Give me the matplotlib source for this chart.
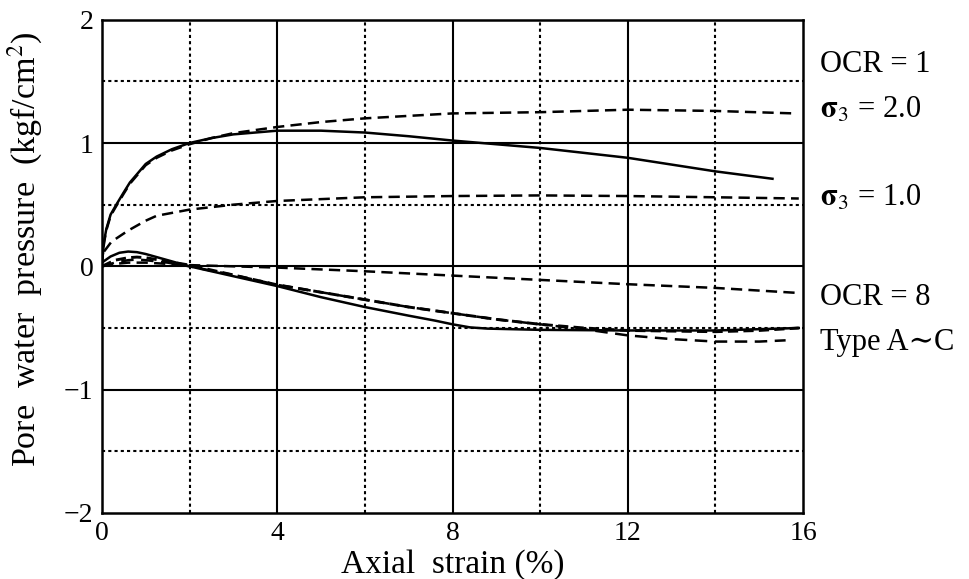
import numpy as np
import matplotlib
matplotlib.use("Agg")
matplotlib.rcParams.update({
    "font.family": ["Liberation Serif", "DejaVu Serif"],
    "mathtext.fontset": "stix",
})
import matplotlib.pyplot as plt

# OCR = 1, sigma3 = 2.0
s2_sol_x = [0, 0.05, 0.1, 0.2, 0.33, 0.5, 0.64, 1.0, 1.25, 1.6, 2, 2.5, 3, 4, 5, 6, 7, 8, 10, 12, 14, 15.3]
s2_sol_y = [0.02, 0.2, 0.3, 0.42, 0.5, 0.6, 0.68, 0.83, 0.89, 0.95, 1.0, 1.04, 1.07, 1.10, 1.10, 1.085, 1.055, 1.02, 0.96, 0.88, 0.77, 0.71]
s2_dash_x = [0, 0.05, 0.1, 0.2, 0.33, 0.5, 0.64, 1.0, 1.25, 1.6, 2, 2.5, 3, 4, 5, 6, 7, 8, 10, 12, 14, 15.8]
s2_dash_y = [0.02, 0.19, 0.29, 0.41, 0.49, 0.59, 0.67, 0.82, 0.88, 0.94, 0.99, 1.04, 1.08, 1.13, 1.17, 1.20, 1.22, 1.24, 1.25, 1.27, 1.26, 1.24]
# OCR = 1, sigma3 = 1.0
s1_dash_x = [0.05, 0.22, 0.6, 1.0, 1.25, 2, 3, 4, 6, 8, 10, 12, 14, 15.9]
s1_dash_y = [0.12, 0.2, 0.29, 0.37, 0.41, 0.46, 0.50, 0.53, 0.56, 0.57, 0.575, 0.57, 0.56, 0.55]

# OCR = 8, Type A~C
o8_sol_x = [0, 0.2, 0.4, 0.6, 0.8, 1.0, 1.5, 2, 3, 4, 5, 6, 7, 7.6, 8, 8.4, 8.8, 10, 12, 14, 15.9]
o8_sol_y = [0.03, 0.08, 0.11, 0.12, 0.115, 0.1, 0.05, 0.0, -0.08, -0.16, -0.25, -0.33, -0.40, -0.44, -0.47, -0.495, -0.505, -0.515, -0.52, -0.52, -0.50]
o8_d1_x = [0, 0.3, 0.6, 1.0, 1.5, 2, 3, 4, 6, 8, 10, 12, 14, 15.85]
o8_d1_y = [0.0, 0.02, 0.03, 0.03, 0.02, 0.01, 0.0, -0.01, -0.04, -0.075, -0.11, -0.145, -0.175, -0.215]
o8_d2_x = [0, 0.3, 0.6, 0.8, 1.0, 1.5, 2, 3, 4, 5, 6, 7, 8, 9, 10, 11, 12, 13, 14, 15, 15.9]
o8_d2_y = [0.0, 0.05, 0.07, 0.075, 0.07, 0.04, 0.01, -0.07, -0.15, -0.21, -0.27, -0.33, -0.38, -0.43, -0.47, -0.50, -0.52, -0.525, -0.53, -0.52, -0.50]
o8_d3_x = [0, 0.3, 0.6, 0.8, 1.0, 1.5, 2, 3, 4, 5, 6, 7, 8, 9, 10, 11, 12, 13, 14, 15, 15.6]
o8_d3_y = [0.0, 0.03, 0.05, 0.055, 0.05, 0.03, 0.0, -0.07, -0.15, -0.21, -0.27, -0.33, -0.38, -0.43, -0.47, -0.51, -0.56, -0.59, -0.61, -0.61, -0.60]

x_ticks = [0, 4, 8, 12, 16]
y_ticks = [-2, -1, 0, 1, 2]

fig = plt.figure(figsize=(9.7, 5.79), dpi=100)
ax = fig.add_axes([0.105, 0.114, 0.723, 0.852])
ax.set_xlim(0, 16)
ax.set_ylim(-2, 2)

# grid: solid at labelled values, dotted halfway
for xv in [4, 8, 12]:
    ax.axvline(xv, color="black", lw=1.5, zorder=1)
for xv in [2, 6, 10, 14]:
    ax.axvline(xv, color="black", lw=1.5, ls=(0, (1.5, 1.5)), zorder=1)
for yv in [-1, 0, 1]:
    ax.axhline(yv, color="black", lw=1.5, zorder=1)
for yv in [-1.5, -0.5, 0.5, 1.5]:
    ax.axhline(yv, color="black", lw=1.5, ls=(0, (1.5, 1.5)), zorder=1)

dash = (0, (4.5, 2.5))
lw = 1.8
ax.plot(s2_sol_x, s2_sol_y, color="black", lw=lw, zorder=3)
ax.plot(s2_dash_x, s2_dash_y, color="black", lw=lw, ls=dash, zorder=3)
ax.plot(s1_dash_x, s1_dash_y, color="black", lw=lw, ls=dash, zorder=3)
ax.plot(o8_sol_x, o8_sol_y, color="black", lw=lw, zorder=3)
ax.plot(o8_d1_x, o8_d1_y, color="black", lw=lw, ls=dash, zorder=3)
ax.plot(o8_d2_x, o8_d2_y, color="black", lw=2.1, ls=(0, (3.5, 1.8)), zorder=3)
ax.plot(o8_d3_x, o8_d3_y, color="black", lw=lw, ls=(0, (5, 3)), zorder=3)

ax.set_xticks(x_ticks)
ax.set_yticks(y_ticks)
ax.tick_params(length=0, labelsize=20, pad=6)
for sp in ax.spines.values():
    sp.set_linewidth(1.8)
ax.set_xlabel("Axial  strain (%)", fontsize=24, labelpad=2)
ax.set_ylabel("Pore  water  pressure  (kgf/cm$^2$)", fontsize=24.5)
ax.yaxis.set_label_coords(-0.082, 0.535)

fs = 22
fig.text(0.845, 0.888, "OCR = 1", fontsize=fs, ha="left", va="center")
fig.text(0.845, 0.810, r"$\mathbf{\sigma}_3$ = 2.0", fontsize=fs, ha="left", va="center")
fig.text(0.845, 0.658, r"$\mathbf{\sigma}_3$ = 1.0", fontsize=fs, ha="left", va="center")
fig.text(0.845, 0.487, "OCR = 8", fontsize=fs, ha="left", va="center")
fig.text(0.845, 0.409, "Type A\u223cC", fontsize=fs, ha="left", va="center")

fig.savefig("out.png", dpi=100)
